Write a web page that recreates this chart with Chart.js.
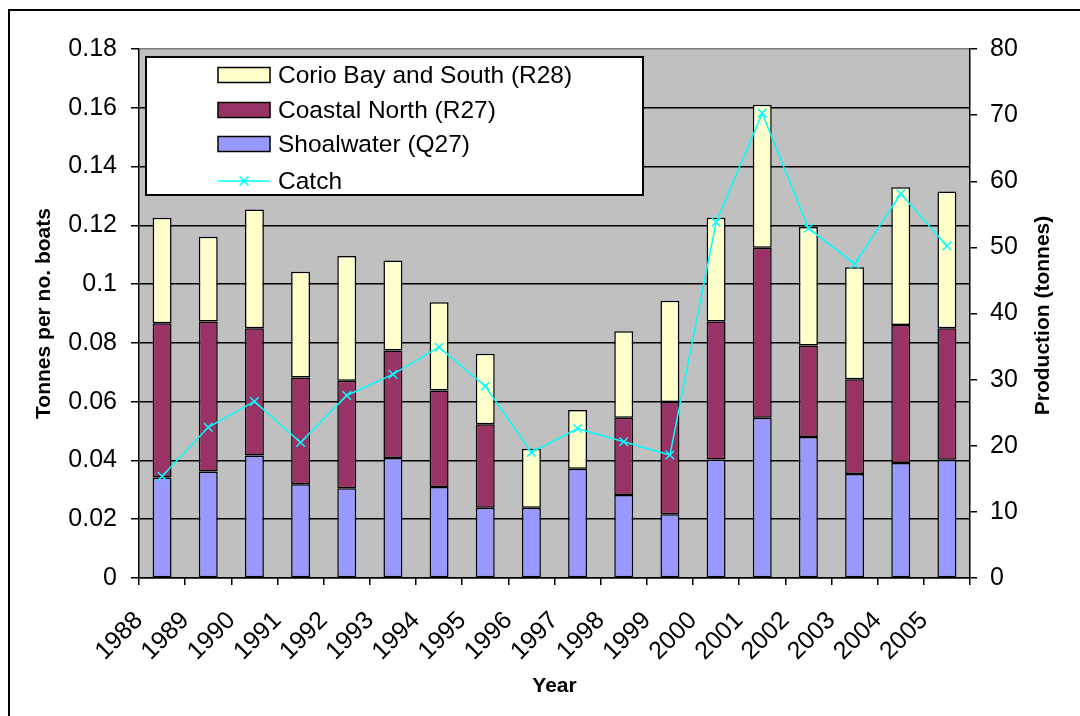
<!DOCTYPE html>
<html>
<head>
<meta charset="utf-8">
<script src="https://cdn.jsdelivr.net/npm/chart.js@4/dist/chart.umd.min.js"></script>
<style>
html,body{margin:0;padding:0;background:#fff;}
#wrap{width:1080px;height:716px;position:relative;overflow:hidden;}
canvas{display:block;}
</style>
</head>
<body>
<div id="wrap"><canvas id="c" width="1080" height="716"></canvas></div>
<script>
const years = ['1988','1989','1990','1991','1992','1993','1994','1995','1996','1997','1998','1999','2000','2001','2002','2003','2004','2005'];
const shoalwaterQ27 = [0.0342,0.0362,0.0417,0.0319,0.0305,0.0408,0.0310,0.0239,0.0239,0.0372,0.0282,0.0217,0.0403,0.0545,0.0480,0.0354,0.0391,0.0402];
const coastalNorthR27 = [0.0525,0.0511,0.0433,0.0363,0.0366,0.0366,0.0328,0.0284,0,0,0.0263,0.0382,0.0470,0.0579,0.0311,0.0322,0.0470,0.0448];
const corioBayR28 = [0.0359,0.0288,0.0404,0.0360,0.0425,0.0306,0.0300,0.0240,0.0201,0.0200,0.0295,0.0344,0.0353,0.0486,0.0403,0.0381,0.0469,0.0465];
const catchTonnes = [15.4,22.8,26.7,20.5,27.6,30.8,34.9,29.0,19.0,22.6,20.6,18.6,53.8,70.3,52.9,47.5,58.1,50.2];
const leftAxisMax = 0.18, leftAxisStep = 0.02;
const rightAxisMax = 80, rightAxisStep = 10;
const seriesNames = ['Corio Bay and South (R28)','Coastal North (R27)','Shoalwater (Q27)','Catch'];
const seriesColors = ['#FFFFCC','#993366','#9999FF','#00FFFF'];
const xTitle = 'Year', yTitle = 'Tonnes per no. boats', y1Title = 'Production (tonnes)';

const FONT = "'Liberation Sans', Arial, sans-serif";

const bgPlugin = {
  id: 'bg',
  beforeDraw(chart) {
    const ctx = chart.ctx, ca = chart.chartArea;
    ctx.save();
    ctx.fillStyle = '#fff';
    ctx.fillRect(0, 0, chart.width, chart.height);
    ctx.strokeStyle = '#000';
    ctx.lineWidth = 2;
    ctx.beginPath();
    ctx.moveTo(9, chart.height + 5);
    ctx.lineTo(9, 10);
    ctx.lineTo(chart.width + 5, 10);
    ctx.stroke();
    ctx.fillStyle = '#C0C0C0';
    ctx.fillRect(ca.left, ca.top, ca.right - ca.left, ca.bottom - ca.top);
    ctx.restore();
  }
};

const legendPlugin = {
  id: 'boxLegend',
  afterDatasetsDraw(chart) {
    const ctx = chart.ctx, ca = chart.chartArea;
    const bx = ca.left + 6, by = ca.top + 7, bw = 499, bh = 140;
    ctx.save();
    ctx.fillStyle = '#fff';
    ctx.fillRect(bx, by, bw, bh);
    ctx.strokeStyle = '#000';
    ctx.lineWidth = 2;
    ctx.strokeRect(bx + 1, by + 1, bw - 2, bh - 2);
    const rows = [19, 54, 88, 125];
    const sx = bx + 73, sw = 52, sh = 15, tx = bx + 133;
    ctx.font = '24.5px ' + FONT;
    ctx.textBaseline = 'middle';
    ctx.textAlign = 'left';
    for (let i = 0; i < 4; i++) {
      const cy = by + rows[i];
      if (i < 3) {
        ctx.fillStyle = seriesColors[i];
        ctx.fillRect(sx, cy - sh / 2, sw, sh);
        ctx.strokeStyle = '#000';
        ctx.lineWidth = 1.5;
        ctx.strokeRect(sx, cy - sh / 2, sw, sh);
      } else {
        ctx.strokeStyle = seriesColors[3];
        ctx.lineWidth = 1.5;
        ctx.beginPath();
        ctx.moveTo(sx, cy); ctx.lineTo(sx + sw, cy);
        const mx = sx + sw / 2, r = 6;
        ctx.moveTo(mx - r * 0.75, cy - r * 0.75); ctx.lineTo(mx + r * 0.75, cy + r * 0.75);
        ctx.moveTo(mx - r * 0.75, cy + r * 0.75); ctx.lineTo(mx + r * 0.75, cy - r * 0.75);
        ctx.stroke();
      }
      ctx.fillStyle = '#000';
      ctx.fillText(seriesNames[i], tx, cy + 1);
    }
    ctx.restore();
  }
};

const rightTitlePlugin = {
  id: 'rightTitle',
  afterDraw(chart) {
    const ctx = chart.ctx, ca = chart.chartArea;
    ctx.save();
    ctx.translate(1043, (ca.top + ca.bottom) / 2 + 2);
    ctx.rotate(-Math.PI / 2);
    ctx.font = 'bold 21px ' + FONT;
    ctx.fillStyle = '#000';
    ctx.textAlign = 'center';
    ctx.textBaseline = 'middle';
    ctx.fillText(y1Title, 0, 0);
    ctx.restore();
  }
};

const barCommon = {
  borderColor: '#000',
  borderWidth: 1.5,
  borderSkipped: false,
  yAxisID: 'y',
  order: 1,
  stack: 'boats'
};

new Chart(document.getElementById('c').getContext('2d'), {
  type: 'bar',
  data: {
    labels: years,
    datasets: [
      Object.assign({label: seriesNames[2], data: shoalwaterQ27, backgroundColor: seriesColors[2]}, barCommon),
      Object.assign({label: seriesNames[1], data: coastalNorthR27, backgroundColor: seriesColors[1]}, barCommon),
      Object.assign({label: seriesNames[0], data: corioBayR28, backgroundColor: seriesColors[0]}, barCommon),
      {
        type: 'line', label: seriesNames[3], data: catchTonnes, yAxisID: 'y1', order: 0,
        borderColor: seriesColors[3], borderWidth: 1.5, tension: 0, fill: false,
        pointStyle: 'crossRot', pointRadius: 6, pointBorderColor: seriesColors[3],
        pointBackgroundColor: seriesColors[3], pointBorderWidth: 1.5
      }
    ]
  },
  options: {
    responsive: false,
    animation: false,
    devicePixelRatio: 1,
    layout: {padding: {top: 49, left: 0, right: 0, bottom: 0}},
    datasets: {bar: {categoryPercentage: 1, barPercentage: 0.41}},
    plugins: {legend: {display: false}, tooltip: {enabled: false}},
    scales: {
      x: {
        stacked: true,
        grid: {offset: true, drawOnChartArea: false, drawTicks: true, tickLength: 7, color: '#000', lineWidth: 1.5},
        border: {color: '#000', width: 1.5},
        ticks: {font: {family: FONT, size: 25}, color: '#000', maxRotation: 45, minRotation: 45, padding: 21, labelOffset: -23, autoSkip: false},
        title: {display: true, text: xTitle, color: '#000', font: {family: FONT, size: 21, weight: 'bold'}, padding: {top: 0, bottom: 17}},
        afterFit(s) { s.height = 138; }
      },
      y: {
        stacked: true, position: 'left', min: 0, max: leftAxisMax,
        ticks: {stepSize: leftAxisStep, callback: v => String(+Number(v).toFixed(2)), font: {family: FONT, size: 25}, color: '#000', padding: 14},
        grid: {
          color: c => (c.tick && Math.abs(c.tick.value - leftAxisMax) < 1e-9) ? '#808080' : '#000',
          tickColor: '#000', lineWidth: 1.5, tickLength: 8, drawTicks: true
        },
        border: {color: '#000', width: 1.5},
        title: {display: true, text: yTitle, color: '#000', font: {family: FONT, size: 21, weight: 'bold'}, padding: {top: 32, bottom: 0}},
        afterFit(s) { s.width = 139; }
      },
      y1: {
        position: 'right', min: 0, max: rightAxisMax,
        ticks: {stepSize: rightAxisStep, font: {family: FONT, size: 25}, color: '#000', padding: 13},
        grid: {drawOnChartArea: false, drawTicks: true, tickLength: 7, color: '#000', lineWidth: 1.5},
        border: {color: '#000', width: 1.5},
        afterFit(s) { s.width = 110; }
      }
    }
  },
  plugins: [bgPlugin, legendPlugin, rightTitlePlugin]
});
</script>
</body>
</html>
